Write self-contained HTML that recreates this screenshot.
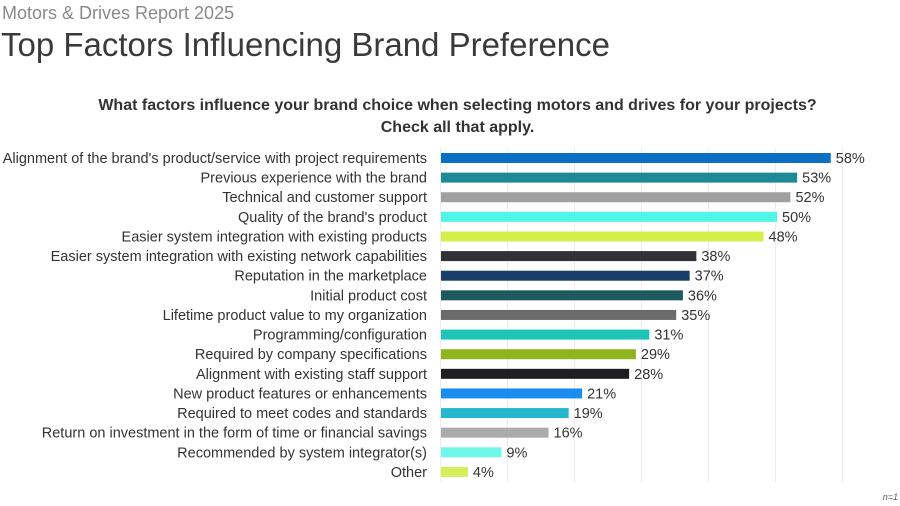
<!DOCTYPE html>
<html><head><meta charset="utf-8"><style>
body{margin:0;width:900px;height:506px;background:#fff;font-family:"Liberation Sans",sans-serif;position:relative;overflow:hidden}
.a{position:absolute;white-space:nowrap}
</style></head><body>
<div class="a" style="left:2px;top:3px;font-size:18px;color:#8a8a8a">Motors &amp; Drives Report 2025</div>
<div class="a" style="left:1px;top:26px;font-size:33px;color:#3a3a3a">Top Factors Influencing Brand Preference</div>
<div class="a" style="left:0;width:915px;top:95px;text-align:center;font-size:16px;font-weight:bold;color:#333;line-height:22px;white-space:normal">What factors influence your brand choice when selecting motors and drives for your projects?<br>Check all that apply.</div>
<svg class="a" style="left:0;top:0" width="900" height="506">
<g stroke="#ececec" stroke-width="1">
<line x1="440.5" y1="148" x2="440.5" y2="482"/><line x1="507.5" y1="148" x2="507.5" y2="482"/><line x1="574.5" y1="148" x2="574.5" y2="482"/><line x1="641.5" y1="148" x2="641.5" y2="482"/><line x1="708.5" y1="148" x2="708.5" y2="482"/><line x1="775.5" y1="148" x2="775.5" y2="482"/><line x1="842.5" y1="148" x2="842.5" y2="482"/>
</g>
<g font-size="14.5" fill="#333" font-family="Liberation Sans, sans-serif" id="g"></g>
<text x="898" y="500" font-size="9" font-style="italic" fill="#555" text-anchor="end">n=1</text>
</svg>
<script>
var d=[["Alignment of the brand's product/service with project requirements",58,"#0b6fc4"],["Previous experience with the brand",53,"#1e8a98"],["Technical and customer support",52,"#a0a0a0"],["Quality of the brand's product",50,"#4ff5e6"],["Easier system integration with existing products",48,"#d4ef4a"],["Easier system integration with existing network capabilities",38,"#333036"],["Reputation in the marketplace",37,"#1a3e6b"],["Initial product cost",36,"#1d5a60"],["Lifetime product value to my organization",35,"#6b6b6b"],["Programming/configuration",31,"#1fc4b8"],["Required by company specifications",29,"#8fb51e"],["Alignment with existing staff support",28,"#1f1f22"],["New product features or enhancements",21,"#1a8ef0"],["Required to meet codes and standards",19,"#25b8cc"],["Return on investment in the form of time or financial savings",16,"#ababab"],["Recommended by system integrator(s)",9,"#6ff7ea"],["Other",4,"#d4ef5a"]];
var s="";d.forEach(function(r,i){var y=158+i*19.62;var w=r[1]*6.72;
s+='<rect x="441" y="'+(y-5)+'" width="'+w+'" height="10" fill="'+r[2]+'"/>';
s+='<text x="427" y="'+(y+5)+'" text-anchor="end">'+r[0].replace(/&/g,"&amp;")+'</text>';
s+='<text x="'+(446+w)+'" y="'+(y+5)+'">'+r[1]+'%</text>';});
document.getElementById("g").innerHTML=s;
</script>
</body></html>
